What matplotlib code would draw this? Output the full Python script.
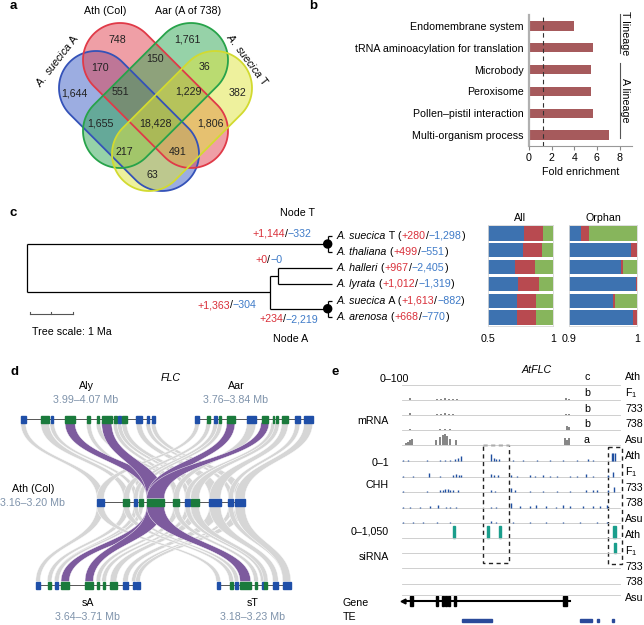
# Multi-panel figure: Venn, GO enrichment, gene gain/loss tree, FLC synteny and tracks

import numpy as np
import matplotlib
matplotlib.use('Agg')
import matplotlib.pyplot as plt
from matplotlib.patches import Polygon, Rectangle, Circle

plt.rcParams['font.family'] = ['Liberation Sans', 'DejaVu Sans']
plt.rcParams['mathtext.fontset'] = 'custom'
plt.rcParams['mathtext.rm'] = 'Liberation Sans'
plt.rcParams['mathtext.it'] = 'Liberation Sans:italic'

W, H = 644, 625
FS = 7.7
RED = '#d9303a'
BLUE = '#3f7bc8'
GREY_TXT = '#7f93ab'

# ---------------- data ----------------
# a: Venn (A. suecica A, Ath, Aar, A. suecica T)
venn_counts = [1644, 748, 1761, 382, 170, 150, 36, 551, 1229, 1655, 18428, 1806, 217, 491, 63]

# b: GO enrichment
go_terms = ['Endomembrane system', 'tRNA aminoacylation for translation', 'Microbody',
            'Peroxisome', 'Pollen\u2013pistil interaction', 'Multi-organism process']
go_fold = [4.0, 5.65, 5.5, 5.5, 5.65, 7.05]
go_cutoff = 1.2

# c: tree and gain/loss
tip_species = ['A. suecica', 'A. thaliana', 'A. halleri', 'A. lyrata', 'A. suecica', 'A. arenosa']
tip_suffix = [' T', '', '', '', ' A', '']
tip_gain = [280, 499, 967, 1012, 1613, 668]
tip_loss = [1298, 551, 2405, 1319, 882, 770]
age_root, age_low, age_hl, age_T, age_A = 7.1, 1.45, 1.25, 0.1, 0.1
branch_gain = [1144, 0, 1363, 234]
branch_loss = [332, 0, 304, 2219]
all_blue = np.array([0.777, 0.767, 0.710, 0.728, 0.723, 0.723])
all_red = np.array([0.145, 0.148, 0.153, 0.168, 0.147, 0.145])
orph_blue = np.array([0.917, 0.991, 0.976, 0.9985, 0.964, 0.9946])
orph_red = np.array([0.013, 0.009, 0.003, 0.0015, 0.004, 0.0054])

# d: gene blocks (start, end, kind) per track; FLC blocks flagged by index
aly_blocks = [(20.7, 25.7, 'b'), (40.7, 49.3, 'g'), (50.7, 53.3, 'b'), (65, 75, 'g'), (87.3, 90, 'g'),
              (97.3, 99.3, 'g'), (101.7, 111.7, 'g'), (114, 116.7, 'g'), (118.3, 120.7, 'b'),
              (121.7, 126.7, 'g'), (136, 141.7, 'b'), (146.7, 149.3, 'b'), (151.7, 155, 'b')]
aar_blocks = [(195, 199.3, 'b'), (206.7, 210, 'g'), (214.3, 216.7, 'b'), (219, 221, 'g'), (226.7, 235, 'g'),
              (246.7, 256, 'b'), (261.7, 268.3, 'g'), (272.7, 274, 'g'), (276, 278.3, 'g'),
              (281.7, 288.3, 'g'), (295, 300, 'b'), (304, 312.7, 'b')]
ath_blocks = [(96.7, 104, 'b'), (123.3, 129.3, 'g'), (134, 137.3, 'b'), (139.3, 142.7, 'g'), (146.7, 164.3, 'g'),
              (173.3, 179, 'g'), (185, 190, 'b'), (190.7, 199.3, 'g'), (209.3, 220.7, 'b'),
              (228.3, 233.3, 'b'), (235, 245, 'b')]
sa_blocks = [(36, 40, 'b'), (48.3, 50.7, 'g'), (55, 58.3, 'b'), (61, 69.3, 'g'), (85, 93.3, 'g'),
             (97.3, 99.3, 'g'), (102.7, 105.3, 'g'), (110, 116.7, 'g'), (122.7, 128, 'b'),
             (132.7, 135, 'b'), (135.7, 140, 'b')]
st_blocks = [(216.7, 220, 'b'), (230, 232.7, 'g'), (235, 238.3, 'b'), (240, 250.7, 'g'), (255, 257.3, 'g'),
             (261.7, 264, 'b'), (264.3, 267.3, 'g'), (272.7, 278.3, 'b'), (282.7, 290.7, 'b')]
flc_aly, flc_aar, flc_ath, flc_sa, flc_st = [3, 6], [4, 6], [4], [3, 4], [3]
links_aly = [(0, 0), (1, 1), (2, 2), (3, 4), (4, 3), (5, 5), (6, 4), (7, 5), (8, 6), (9, 7), (10, 8), (11, 9), (12, 10)]
links_aar = [(0, 0), (1, 1), (2, 2), (3, 3), (4, 4), (5, 5), (6, 4), (7, 6), (8, 7), (9, 8), (10, 9), (11, 10)]
links_sa = [(0, 0), (1, 1), (2, 2), (3, 2), (4, 3), (4, 4), (5, 5), (6, 6), (7, 7), (8, 8), (9, 9), (10, 10)]
links_st = [(0, 0), (1, 1), (2, 2), (4, 3), (5, 4), (6, 5), (7, 6), (8, 7), (9, 8), (10, 8)]

# e: tracks (position, height)
mrna_rows = [
    [],
    [(410, 1.5), (437, 1), (441, 1.2), (445, 1.5), (449, 1.2), (453, 1), (457, 0.8), (566, 1.5), (569, 1)],
    [(410, 1.5), (437, 1), (441, 1.2), (445, 1.5), (449, 1), (453, 1), (566, 1.2), (569, 1)],
    [(410, 1), (440, 1), (445, 1.2), (450, 1), (455, 0.8), (567, 4), (569, 3)],
    [(406, 2), (408, 3.5), (410, 5), (412, 6), (436, 5), (440, 8), (443, 10), (445, 11), (447.5, 9),
     (450.5, 6), (456.5, 5), (565, 7), (567, 5), (569, 7)],
]
mrna_group = ['c', 'b', 'b', 'b', 'a']
chh_rows = [
    [(403, 1), (408, 1), (427, 1), (440, 1.5), (445, 1.5), (450, 1.5), (455, 2), (458, 3), (461.5, 5),
     (491.5, 7), (494, 3), (496.5, 2), (499, 2), (513, 1), (523, 1), (537, 1), (550, 1), (563, 1),
     (577, 1), (588, 2), (593, 1), (612, 8), (613.5, 8), (615, 8)],
    [(403, 1), (413, 1), (429, 4), (440, 1), (453, 2), (456.5, 3), (459, 2), (461.5, 2), (491.5, 3),
     (494, 2), (498, 2), (511.5, 2), (517, 1), (530, 2), (535, 1), (543, 2), (550, 1), (557, 1),
     (570, 1), (577, 1), (586.5, 3), (593, 1), (608, 2), (613.5, 5)],
    [(403, 1), (427, 1), (440, 2), (443, 2), (445, 3), (448, 3), (450, 2), (453, 2), (458, 2),
     (491.5, 2), (495.5, 1), (511.5, 4), (515, 2), (530, 1), (543, 1), (557, 1), (570, 1),
     (586.5, 2), (593, 2), (597, 2), (608, 2), (614, 5)],
    [(403, 1), (410, 1), (420, 1), (430, 2), (438, 3), (446.5, 1), (450, 1), (456.5, 1), (491.5, 1),
     (496.5, 1), (511.5, 5), (520, 2), (530, 2), (536.5, 3), (546.5, 2), (556, 1), (563.3, 3),
     (570, 2), (583, 2), (593, 2), (600, 2), (607, 3)],
    [(403, 1), (413, 1), (423, 1), (437, 1), (450, 1), (491.5, 2), (496.5, 1), (513, 1), (530, 1),
     (546.5, 1), (563, 1), (580, 1), (597, 1), (607, 1)],
]
sirna_rows = [[(454, 1.8, 12), (488.3, 1.8, 12), (500, 1.8, 12), (614.3, 3.5, 12)],
              [(615, 2, 10)], [], [], []]
row_names = ['Ath', 'F$_1$', '733', '738', 'Asu']
gene_exons = [(410.5, 2.2), (435.7, 2), (441.7, 2), (444.7, 2), (448, 2), (454, 2), (563, 4.5)]
te_blocks = [(462, 30), (580, 12), (597, 2.5), (612, 2.5)]


def px_box(x0, y0, x1, y1):
    return [x0 / W, 1 - y1 / H, (x1 - x0) / W, (y1 - y0) / H]


def chain(ax, x, y, parts, size=FS):
    t = None
    for s, col, sty in parts:
        if t is None:
            t = ax.text(x, y, s, color=col, style=sty, fontsize=size, va='center', ha='left')
        else:
            t = ax.annotate(s, xy=(1, 0), xycoords=t, color=col, style=sty, fontsize=size,
                            va='bottom', ha='left')
    return t


def stadium(c1, c2, r, n=60):
    c1 = np.array(c1, float)
    c2 = np.array(c2, float)
    a = np.arctan2(*(c2 - c1)[::-1])
    t1 = np.linspace(a - np.pi / 2, a + np.pi / 2, n)
    t2 = np.linspace(a + np.pi / 2, a + 3 * np.pi / 2, n)
    return np.vstack([c2 + r * np.c_[np.cos(t1), np.sin(t1)], c1 + r * np.c_[np.cos(t2), np.sin(t2)]])


def bez(p0, p1, p2, p3, n=40):
    t = np.linspace(0, 1, n)[:, None]
    p0, p1, p2, p3 = [np.array(p, float) for p in (p0, p1, p2, p3)]
    return (1 - t) ** 3 * p0 + 3 * (1 - t) ** 2 * t * p1 + 3 * (1 - t) * t ** 2 * p2 + t ** 3 * p3


def ribbon(ax, a, b, y0, y1, color, z, minw=4.5):
    def widen(s, e):
        c = (s + e) / 2
        h = max((e - s) / 2, minw / 2)
        return c - h, c + h
    a0, a1 = widen(*a)
    b0, b1 = widen(*b)
    ym = (y0 + y1) / 2
    left = bez((a0, y0), (a0, ym), (b0, ym), (b0, y1))
    right = bez((a1, y0), (a1, ym), (b1, ym), (b1, y1))[::-1]
    ax.add_patch(Polygon(np.vstack([left, right]), closed=True, fc=color, ec='white', lw=0.3, zorder=z))


fig = plt.figure(figsize=(W / 100, H / 100), dpi=100)
cv = fig.add_axes([0, 0, 1, 1])
cv.set_xlim(0, W)
cv.set_ylim(H, 0)
cv.axis('off')

for lab, (x, y) in zip('abcde', [(13, 6), (313, 6), (13, 213), (15, 372), (335, 372)]):
    cv.text(x, y, lab, fontsize=9.5, fontweight='bold', ha='center', va='center')

# ---------------- a ----------------
venn_caps = [((96, 88), (162, 154)), ((120, 60), (191, 131)), ((191, 60), (120, 131)), ((215, 88), (149, 154))]
venn_fill = ['#3b5cc4', '#e0404e', '#2fa652', '#dfe43c']
venn_edge = ['#3452b8', '#e03a48', '#27a34a', '#d2da30']
for (c1, c2), fc in zip(venn_caps, venn_fill):
    cv.add_patch(Polygon(stadium(c1, c2, 37), closed=True, fc=fc, alpha=0.5, ec='none'))
for (c1, c2), ec in zip(venn_caps, venn_edge):
    cv.add_patch(Polygon(stadium(c1, c2, 37), closed=True, fc='none', ec=ec, lw=1.3))
venn_xy = [(74, 94), (117, 40), (187, 40), (238, 93), (100, 68), (155, 59), (205, 67), (120, 92),
           (188, 92), (100, 124), (155, 123), (210, 124), (124, 152), (178, 152), (152, 175)]
for n, (x, y) in zip(venn_counts, venn_xy):
    cv.text(x, y, f'{n:,}', fontsize=FS, ha='center', va='center', color='#222222')
cv.text(105, 11, 'Ath (Col)', fontsize=FS, ha='center', va='center')
cv.text(188, 11, 'Aar (A of 738)', fontsize=FS, ha='center', va='center')
cv.text(57, 60, r'$\it{A.\ suecica}$ A', fontsize=FS, ha='center', va='center', rotation=52)
cv.text(248, 59, r'$\it{A.\ suecica}$ T', fontsize=FS, ha='center', va='center', rotation=-53)

# ---------------- b ----------------
axb = fig.add_axes(px_box(529, 15, 632, 146))
yb = np.arange(len(go_terms))
axb.barh(yb, go_fold, height=0.42, color='#a65a5c')
axb.axvline(go_cutoff, color='#333333', ls=(0, (4, 3)), lw=0.8)
axb.set_xlim(0, 9.1)
axb.set_ylim(5.5, -0.5)
axb.set_yticks(yb, go_terms, fontsize=FS)
axb.set_xticks([0, 2, 4, 6, 8])
axb.tick_params(axis='y', length=0, pad=4)
axb.tick_params(axis='x', labelsize=FS, length=3, color='#888888', pad=2)
for s in ['top', 'right']:
    axb.spines[s].set_visible(False)
axb.spines['left'].set_color('#b0b0b0')
axb.spines['left'].set_linewidth(1.6)
axb.spines['bottom'].set_color('#999999')
axb.set_xlabel('Fold enrichment', fontsize=FS, labelpad=3)
axb.plot([8, 8], [-0.55, 1.24], color='#555555', lw=0.8, clip_on=False)
axb.plot([8, 8], [1.7, 5.14], color='#555555', lw=0.8, clip_on=False)
axb.text(8.5, 0.35, 'T lineage', rotation=270, fontsize=FS, ha='center', va='center', clip_on=False)
axb.text(8.5, 3.4, 'A lineage', rotation=270, fontsize=FS, ha='center', va='center', clip_on=False)

# ---------------- c: tree ----------------
TIP_X, MA_PX = 332, 43
tip_y = [236, 252, 268, 284, 300.5, 317]


def ax_x(age):
    return TIP_X - age * MA_PX


yT = (tip_y[0] + tip_y[1]) / 2
yHL = (tip_y[2] + tip_y[3]) / 2
yA = (tip_y[4] + tip_y[5]) / 2
yLow = (yHL + yA) / 2
lk = dict(color='black', lw=0.9, solid_capstyle='butt')
xr, xl, xh, xt, xa = ax_x(age_root), ax_x(age_low), ax_x(age_hl), ax_x(age_T), ax_x(age_A)
cv.plot([xr, xr], [yT, yLow], **lk)
cv.plot([xr, xt], [yT, yT], **lk)
cv.plot([xr, xl], [yLow, yLow], **lk)
cv.plot([xl, xl], [yHL, yA], **lk)
cv.plot([xl, xh], [yHL, yHL], **lk)
cv.plot([xl, xa], [yA, yA], **lk)
for xn, i0, i1 in [(xt, 0, 1), (xh, 2, 3), (xa, 4, 5)]:
    cv.plot([xn, xn], [tip_y[i0], tip_y[i1]], **lk)
    for i in (i0, i1):
        cv.plot([xn, TIP_X], [tip_y[i], tip_y[i]], **lk)
for xn, yn in [(xt, yT), (xa, yA)]:
    cv.add_patch(Circle((xn, yn), 4, color='black', zorder=5))

for sp, suf, g, l, y in zip(tip_species, tip_suffix, tip_gain, tip_loss, tip_y):
    chain(cv, 337, y, [(sp, 'black', 'italic'), (suf + ' (', 'black', 'normal'), (f'+{g:,}', RED, 'normal'),
                       ('/', 'black', 'normal'), (f'\u2212{l:,}', BLUE, 'normal'), (')', 'black', 'normal')])

branch_xy = [(252, 234), (255, 260), (197, 305), (259, 319)]
for g, l, (x, y) in zip(branch_gain, branch_loss, branch_xy):
    chain(cv, x, y, [(f'+{g:,}', RED, 'normal'), ('/', 'black', 'normal'), (f'\u2212{l:,}', BLUE, 'normal')])
cv.text(298, 213, 'Node T', fontsize=FS, ha='center', va='center')
cv.text(291, 339, 'Node A', fontsize=FS, ha='center', va='center')
cv.plot([30, 30 + MA_PX], [314, 314], color='#555555', lw=0.8)
for xx in [30, 30 + MA_PX / 2, 30 + MA_PX]:
    cv.plot([xx, xx], [312, 314], color='#555555', lw=0.8)
cv.text(32, 332, 'Tree scale: 1 Ma', fontsize=FS, ha='left', va='center')

# ---------------- c: bars ----------------
CB, CR, CG = '#3d72b0', '#b84a50', '#87b55c'
for box, blue, red, lo, title in [((488, 225, 553, 326), all_blue, all_red, 0.5, 'All'),
                                  ((569, 225, 637, 326), orph_blue, orph_red, 0.9, 'Orphan')]:
    axc = fig.add_axes(px_box(*box))
    yy = np.arange(len(blue))
    axc.barh(yy, blue, height=0.86, color=CB)
    axc.barh(yy, red, left=blue, height=0.86, color=CR)
    axc.barh(yy, 1 - blue - red, left=blue + red, height=0.86, color=CG)
    axc.set_xlim(lo, 1)
    axc.set_ylim(5.5, -0.5)
    axc.set_yticks([])
    axc.set_xticks([lo, 1], [f'{lo:g}', '1'], fontsize=FS)
    axc.tick_params(axis='x', length=0, pad=6)
    for s in axc.spines.values():
        s.set_color('#d8d8d8')
        s.set_linewidth(0.6)
    cv.text((box[0] + box[2]) / 2, 218, title, fontsize=FS, ha='center', va='center')

# ---------------- d ----------------
Y_TOP, Y_MID, Y_BOT, BH = 419, 502, 585, 3.5
PURPLE, GRAY = '#7d5b9e', '#d6d6d6'
pairs = [(aly_blocks, ath_blocks, links_aly, flc_aly, flc_ath, Y_TOP + BH, Y_MID - BH),
         (aar_blocks, ath_blocks, links_aar, flc_aar, flc_ath, Y_TOP + BH, Y_MID - BH),
         (ath_blocks, sa_blocks, links_sa, flc_ath, flc_sa, Y_MID + BH, Y_BOT - BH),
         (ath_blocks, st_blocks, links_st, flc_ath, flc_st, Y_MID + BH, Y_BOT - BH)]
for purple_pass in (False, True):
    for src, dst, links, fs, fd, y0, y1 in pairs:
        for i, j in links:
            is_flc = i in fs and j in fd
            if is_flc == purple_pass:
                if is_flc:
                    ribbon(cv, src[i][:2], dst[j][:2], y0, y1, PURPLE, 3, minw=8)
                else:
                    ribbon(cv, src[i][:2], dst[j][:2], y0, y1, GRAY, 2)

for blocks, y in [(aly_blocks, Y_TOP), (aar_blocks, Y_TOP), (ath_blocks, Y_MID),
                  (sa_blocks, Y_BOT), (st_blocks, Y_BOT)]:
    cv.plot([blocks[0][0], blocks[-1][1]], [y, y], color='#555555', lw=0.7, zorder=4)
    for s, e, k in blocks:
        cv.add_patch(Rectangle((s, y - BH), e - s, 2 * BH, color='#1f4fa8' if k == 'b' else '#1a7a3c', zorder=5))

cv.text(171, 378, 'FLC', fontsize=FS, style='italic', ha='center', va='center')
for name, rng, x, y in [('Aly', '3.99\u20134.07 Mb', 86, 386), ('Aar', '3.76\u20133.84 Mb', 236, 386),
                        ('Ath (Col)', '3.16\u20133.20 Mb', 33, 489), ('sA', '3.64\u20133.71 Mb', 88, 603),
                        ('sT', '3.18\u20133.23 Mb', 253, 603)]:
    cv.text(x, y, name, fontsize=FS, ha='center', va='center')
    cv.text(x, y + 14, rng, fontsize=FS, ha='center', va='center', color=GREY_TXT)

# ---------------- e ----------------
X0, X1 = 402, 620
base = [384.7, 399.7, 414.7, 430.3, 445.3, 461, 476.7, 492.3, 507.5, 522.7, 538.3, 553.3, 568.3, 584, 594.7]
for yb_ in base:
    cv.plot([X0, X1], [yb_, yb_], color='#c8c8c8', lw=0.6)
for k in range(15):
    cv.text(625, 377 + 15.8 * k, row_names[k % 5], fontsize=FS, ha='left', va='center')
for k, (row, grp) in enumerate(zip(mrna_rows, mrna_group)):
    for x, h in row:
        cv.plot([x, x], [base[k], base[k] - h], color='#707070', lw=1.2, solid_capstyle='butt')
    cv.text(587, 377 + 15.8 * k, grp, fontsize=FS, ha='center', va='center')
for k, row in enumerate(chh_rows):
    for x, h in row:
        cv.plot([x, x], [base[5 + k], base[5 + k] - h], color='#1f4fa0', lw=1.0, solid_capstyle='butt')
for k, row in enumerate(sirna_rows):
    for x, w, h in row:
        cv.add_patch(Rectangle((x - w / 2, base[10 + k] - h), w, h, color='#1a9e8c'))
for x, y, w, h in [(483, 445, 26, 118), (608, 447, 14, 117)]:
    cv.add_patch(Rectangle((x, y), w, h, fill=False, ec='#222222', lw=1.0, ls=(0, (3, 2.5))))

cv.plot([404, 570], [601, 601], color='black', lw=1.5)
cv.plot([403], [601], marker='<', color='black', ms=3.5)
for x, w in gene_exons:
    cv.add_patch(Rectangle((x, 596), w, 10, color='black'))
for x, w in te_blocks:
    cv.add_patch(Rectangle((x, 619), w, 3.2, color='#2a4a9a'))

cv.text(537, 370, 'AtFLC', fontsize=FS, style='italic', ha='center', va='center')
cv.text(380, 379, '0\u2013100', fontsize=FS, ha='left', va='center')
for t, y in [('mRNA', 421), ('0\u20131', 463), ('CHH', 485), ('0\u20131,050', 531), ('siRNA', 557)]:
    cv.text(389, y, t, fontsize=FS, ha='right', va='center')
cv.text(343, 603, 'Gene', fontsize=FS, ha='left', va='center')
cv.text(343, 617, 'TE', fontsize=FS, ha='left', va='center')

fig.savefig('out.png', dpi=100)
